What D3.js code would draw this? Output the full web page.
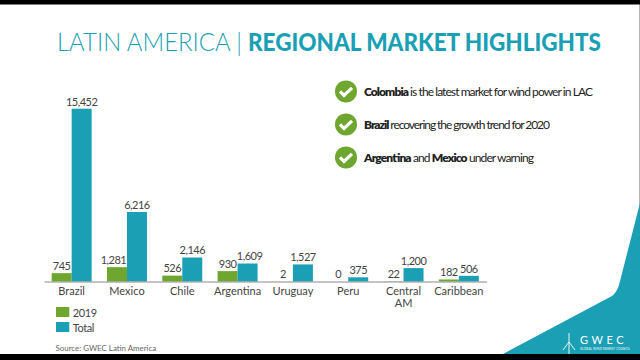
<!DOCTYPE html>
<html><head><meta charset="utf-8">
<script src="https://cdnjs.cloudflare.com/ajax/libs/d3/7.8.5/d3.min.js"></script>
<style>html,body{margin:0;padding:0;background:#fff;overflow:hidden}text{font-family:Lato,"Open Sans",sans-serif}</style>
</head><body><svg id="c" width="640" height="360"></svg>
<script>
const categories=["Brazil","Mexico","Chile","Argentina","Uruguay","Peru","Central AM","Caribbean"];
const values2019=[745,1281,526,930,2,0,22,182];
const valuesTotal=[15452,6216,2146,1609,1527,375,1200,506];
const seriesNames=["2019","Total"];
const highlights=[
 [["Colombia",1],[" is the latest market for wind power in LAC",0]],
 [["Brazil",1],[" recovering the growth trend for 2020",0]],
 [["Argentina",1],[" and ",0],["Mexico",1],[" under warning",0]]
];
const GREEN="#6ea62f",TEAL="#1a9fb5";
const svg=d3.select("#c");
svg.append("rect").attr("width",640).attr("height",360).attr("fill","#fff");
// right edge hairline and corner
svg.append("rect").attr("x",639).attr("y",4).attr("width",1).attr("height",202).attr("fill","#b5b5b5");
svg.append("path").attr("d","M503 354L612 296Q617 292 619 285L640 203L640 354Z").attr("fill",TEAL);
// black bands
svg.append("rect").attr("width",640).attr("height",4.5).attr("fill","#000");
svg.append("rect").attr("y",354).attr("width",640).attr("height",6).attr("fill","#000");
// title
svg.append("text").attr("x",57).attr("y",50.5).attr("font-size",25).attr("fill",TEAL).attr("font-weight",300).attr("textLength",185).attr("lengthAdjust","spacingAndGlyphs").text("LATIN AMERICA |");
svg.append("text").attr("x",248).attr("y",50.5).attr("font-size",25).attr("fill",TEAL).attr("font-weight",900).attr("textLength",353).attr("lengthAdjust","spacingAndGlyphs").text("REGIONAL MARKET HIGHLIGHTS");
// chart
const x=d3.scaleBand().domain(categories).range([44,486.5]);
const y=d3.scaleLinear().domain([0,15452]).range([281.5,108.7]);
const barW=20;
const g=svg.append("g");
const cx=d=>x(d)+x.bandwidth()/2;
g.selectAll(".a").data(categories).join("rect").attr("x",d=>cx(d)-barW).attr("width",barW)
 .attr("y",(d,i)=>y(values2019[i])).attr("height",(d,i)=>y(0)-y(values2019[i])).attr("fill",GREEN);
g.selectAll(".b").data(categories).join("rect").attr("x",d=>cx(d)).attr("width",barW)
 .attr("y",(d,i)=>y(valuesTotal[i])).attr("height",(d,i)=>y(0)-y(valuesTotal[i])).attr("fill",TEAL);
const fmt=d3.format(",");
// labels that sit slightly off their bar centre in the original
const nudge2019={Mexico:-3.5},nudgeTotal={Argentina:2};
g.selectAll(".la").data(categories).join("text").attr("x",d=>cx(d)-barW/2+(nudge2019[d]||0)).attr("y",(d,i)=>y(values2019[i])-3.2)
 .attr("text-anchor","middle").attr("font-size",11).attr("letter-spacing",-0.5).attr("fill","#444").text((d,i)=>fmt(values2019[i]));
g.selectAll(".lb").data(categories).join("text").attr("x",d=>cx(d)+barW/2+(nudgeTotal[d]||0)).attr("y",(d,i)=>y(valuesTotal[i])-3.2)
 .attr("text-anchor","middle").attr("font-size",11).attr("letter-spacing",-0.5).attr("fill","#444").text((d,i)=>fmt(valuesTotal[i]));
const ax=g.append("g").attr("transform","translate(0,281.5)").call(d3.axisBottom(x).tickSize(0).tickPadding(6));
ax.select(".domain").attr("stroke","#8a8a8a").attr("stroke-width",1.2);
ax.selectAll("text").attr("font-size",11).attr("fill","#444").style("font-family","Lato").each(function(d){
  const w=d.split(" ");
  if(w.length>1){const s=d3.select(this);const yy=s.attr("y"),dy=s.attr("dy");s.text(null);
    w.forEach((p,i)=>s.append("tspan").attr("x",0).attr("y",yy).attr("dy",i?"1.75em":dy).text(p));}
});
// legend
const lg=svg.selectAll(".lg").data(seriesNames).join("g").attr("transform",(d,i)=>`translate(56,${307+i*15})`);
lg.append("rect").attr("width",13.3).attr("height",10).attr("fill",(d,i)=>i?TEAL:GREEN);
lg.append("text").attr("x",16.7).attr("y",9.5).attr("font-size",11).attr("letter-spacing",-0.4).attr("fill","#444").text(d=>d);
svg.append("text").attr("x",55.5).attr("y",351).attr("font-size",7.9).attr("fill","#666").text("Source: GWEC  Latin America");
// highlights
const rowWidths=[229,186,170];
const h=svg.selectAll(".h").data(highlights).join("g").attr("transform",(d,i)=>`translate(346,${91.4+i*33})`);
h.append("circle").attr("r",11).attr("fill",GREEN);
h.append("path").attr("d","M-6 0L-2 4L6 -3.5").attr("fill","none").attr("stroke","#fff").attr("stroke-width",3.2);
h.append("text").attr("x",18).attr("y",4.6).attr("font-size",12).attr("fill","#222").attr("textLength",(d,i)=>rowWidths[i]).attr("lengthAdjust","spacing").each(function(d){
  d3.select(this).selectAll("tspan").data(d).join("tspan").attr("font-weight",p=>p[1]?800:400).text(p=>p[0]);
});
// logo
const logo=svg.append("g").attr("stroke","#fff").attr("fill","none").attr("stroke-width",0.9);
logo.append("path").attr("d","M569 354L569 333M569 342L563 350M569 342L575 350");
svg.append("text").attr("x",580).attr("y",344).attr("font-size",11).attr("letter-spacing",3.6).attr("fill","#fff").text("GWEC");
svg.append("text").attr("x",580).attr("y",349.5).attr("font-size",2.8).attr("letter-spacing",.25).attr("fill","#fff").text("GLOBAL WIND ENERGY COUNCIL");
</script></body></html>
